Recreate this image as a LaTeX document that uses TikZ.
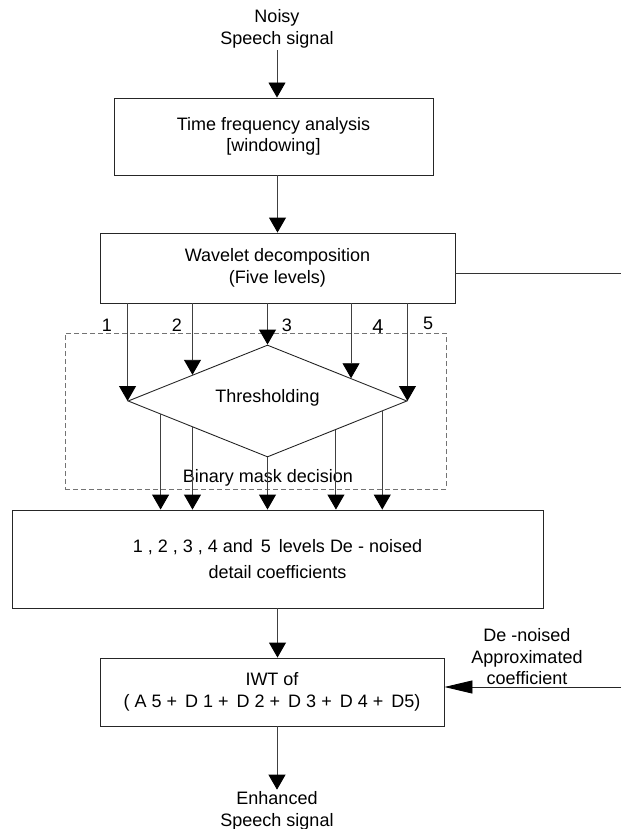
\documentclass[tikz,border=0pt]{standalone}
\usepackage{fontspec}
\setmainfont{Liberation Sans}
\usetikzlibrary{arrows.meta,calc,shapes.geometric}
\begin{document}
\begin{tikzpicture}[x=1pt,y=-1pt,
  font=\fontsize{18}{21.5}\selectfont,
  box/.style={draw=black!85,line width=0.9pt,align=center,inner sep=0pt},
  lbl/.style={align=center,inner sep=2pt},
  arr/.style={draw=black!75,line width=0.9pt,-{Triangle[length=15pt,width=17pt,fill=black,color=black]}},
  harr/.style={draw=black!85,line width=0.9pt,-{Triangle[length=28pt,width=13pt,fill=black,color=black]}},
  ln/.style={draw=black!80,line width=0.9pt}]
\useasboundingbox (0,0) rectangle (621,829);
% dashed region
\node[draw=black!55,dash pattern=on 5pt off 3pt,line width=0.9pt,minimum width=381pt,minimum height=156pt,inner sep=0pt] (mask) at (255.5,411) {};
\node[lbl] (masktxt) at (268,478) {Binary mask decision};
% text nodes
\node[lbl] (noisy) at (277,29) {Noisy\\Speech signal};
\node[box,minimum width=319pt,minimum height=77pt] (box1) at (273.5,136.5) {Time frequency analysis\\{[}windowing{]}};
\node[box,minimum width=355pt,minimum height=70pt] (box2) at (277.5,268) {Wavelet decomposition\\(Five levels)};
\node[draw=black!85,line width=0.9pt,diamond,minimum width=279pt,minimum height=112pt,inner sep=0pt] (dia) at (267.5,401) {};
\node[lbl] (thr) at (267.5,398) {Thresholding};
\node[box,minimum width=531pt,minimum height=98pt] (box3) at (277.5,559) {1 , 2 , 3 , 4 and \,5 \,levels De - noised\\[5pt]detail coefficients};
\node[box,minimum width=344pt,minimum height=68pt] (box4) at (272,692) {IWT of\\( A 5 + \,D 1 + \,D 2 + \,D 3 + \,D 4 + \,D5)};
\node[lbl] (enh) at (277,811) {Enhanced\\Speech signal};
\node[lbl] (appr) at (527,657) {De -noised\\Approximated\\coefficient};
% level labels
\node[lbl] (l1) at (107,325) {1};
\node[lbl] (l2) at (177,325) {2};
\node[lbl] (l3) at (287,325) {3};
\node[lbl,font=\fontsize{20}{24}\selectfont] (l4) at (378,327) {4};
\node[lbl] (l5) at (428,323) {5};
% free ends
\coordinate (rtop) at (621,273);
\coordinate (rbot) at (621,687);
% main column
\draw[arr] (noisy.south) -- (noisy.south |- box1.north);
\draw[arr] (box2.north |- box1.south) -- (box2.north);
\draw[arr] (box3.south) -- (box3.south |- box4.north);
\draw[arr] (enh.north |- box4.south) -- (enh.north);
\draw[ln] (box2.east |- rtop) -- (rtop);
\draw[harr] (rbot) -- (box4.east |- rbot);
% diamond entry points
\coordinate (p1) at (dia.west);
\coordinate (p2) at ($(dia.west)!0.464!(dia.north)$);
\coordinate (p3) at (dia.north);
\coordinate (p4) at ($(dia.north)!0.597!(dia.east)$);
\coordinate (p5) at (dia.east);
\foreach \p in {p1,p2,p3,p4,p5} \draw[arr] (box2.south -| \p) -- (\p);
% diamond exit points
\coordinate (q1) at ($(dia.west)!0.236!(dia.south)$);
\coordinate (q2) at ($(dia.west)!0.464!(dia.south)$);
\coordinate (q3) at (dia.south);
\coordinate (q4) at ($(dia.south)!0.489!(dia.east)$);
\coordinate (q5) at ($(dia.south)!0.82!(dia.east)$);
\foreach \q in {q1,q2,q3,q4,q5} \draw[arr] (\q) -- (\q |- box3.north);
\end{tikzpicture}
\end{document}
